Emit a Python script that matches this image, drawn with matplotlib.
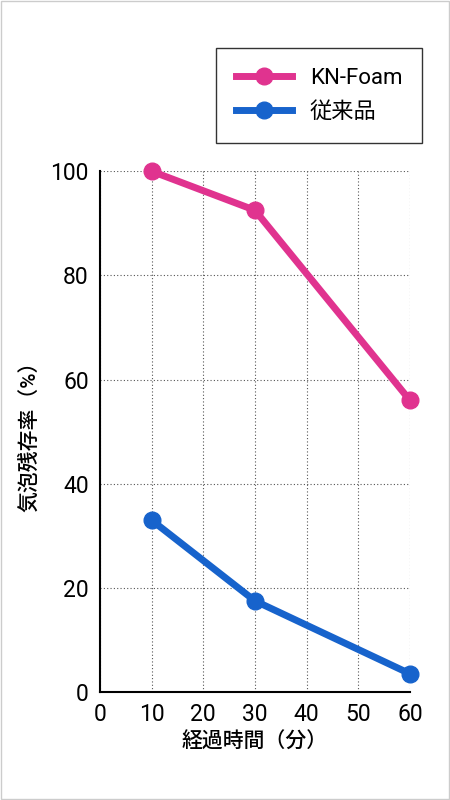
import matplotlib.pyplot as plt
from matplotlib.patches import Rectangle

plt.rcParams['font.family'] = ['Roboto', 'Noto Sans CJK JP', 'DejaVu Sans']

minutes = [10, 30, 60]
kn_foam = [100, 92.5, 56]
conventional = [33, 17.5, 3.5]
series_names = ["KN-Foam", "従来品"]
x_ticks = [0, 10, 20, 30, 40, 50, 60]
y_ticks = [0, 20, 40, 60, 80, 100]

pink = "#e0338f"
blue = "#1763cc"

fig = plt.figure(figsize=(4.5, 8), dpi=100)
fig.patches.append(Rectangle((0.002, 0.001), 0.996, 0.998, transform=fig.transFigure,
                             fill=False, edgecolor="#cccccc", linewidth=1))
ax = fig.add_axes([0.222, 0.135, 0.689, 0.651])

ax.plot(minutes, kn_foam, color=pink, lw=5, marker="o", ms=12, clip_on=False, label=series_names[0], zorder=3)
ax.plot(minutes, conventional, color=blue, lw=5, marker="o", ms=12, clip_on=False, label=series_names[1], zorder=3)

ax.set_xlim(0, 60)
ax.set_ylim(0, 100)
ax.set_xticks(x_ticks)
ax.set_yticks(y_ticks)
ax.tick_params(labelsize=16.5, length=0, pad=8)
ax.grid(True, color="#555555", linestyle=(0, (1, 2)), linewidth=0.8)
for side in ("top", "right"):
    ax.spines[side].set_visible(False)
ax.spines["left"].set_linewidth(1.5)
ax.spines["bottom"].set_linewidth(1.5)

ax.set_xlabel("経過時間（分）", fontsize=15, fontweight="medium")
ax.set_ylabel("気泡残存率（%）", fontsize=15, fontweight="medium", labelpad=8)

leg = fig.legend(loc="upper left", bbox_to_anchor=(0.456, 0.954), fontsize=16,
                 frameon=True, fancybox=False, edgecolor="black", borderpad=0.9,
                 handlelength=2.5, labelspacing=0.6)
leg.get_frame().set_linewidth(1)

fig.savefig("out.png", dpi=100)
